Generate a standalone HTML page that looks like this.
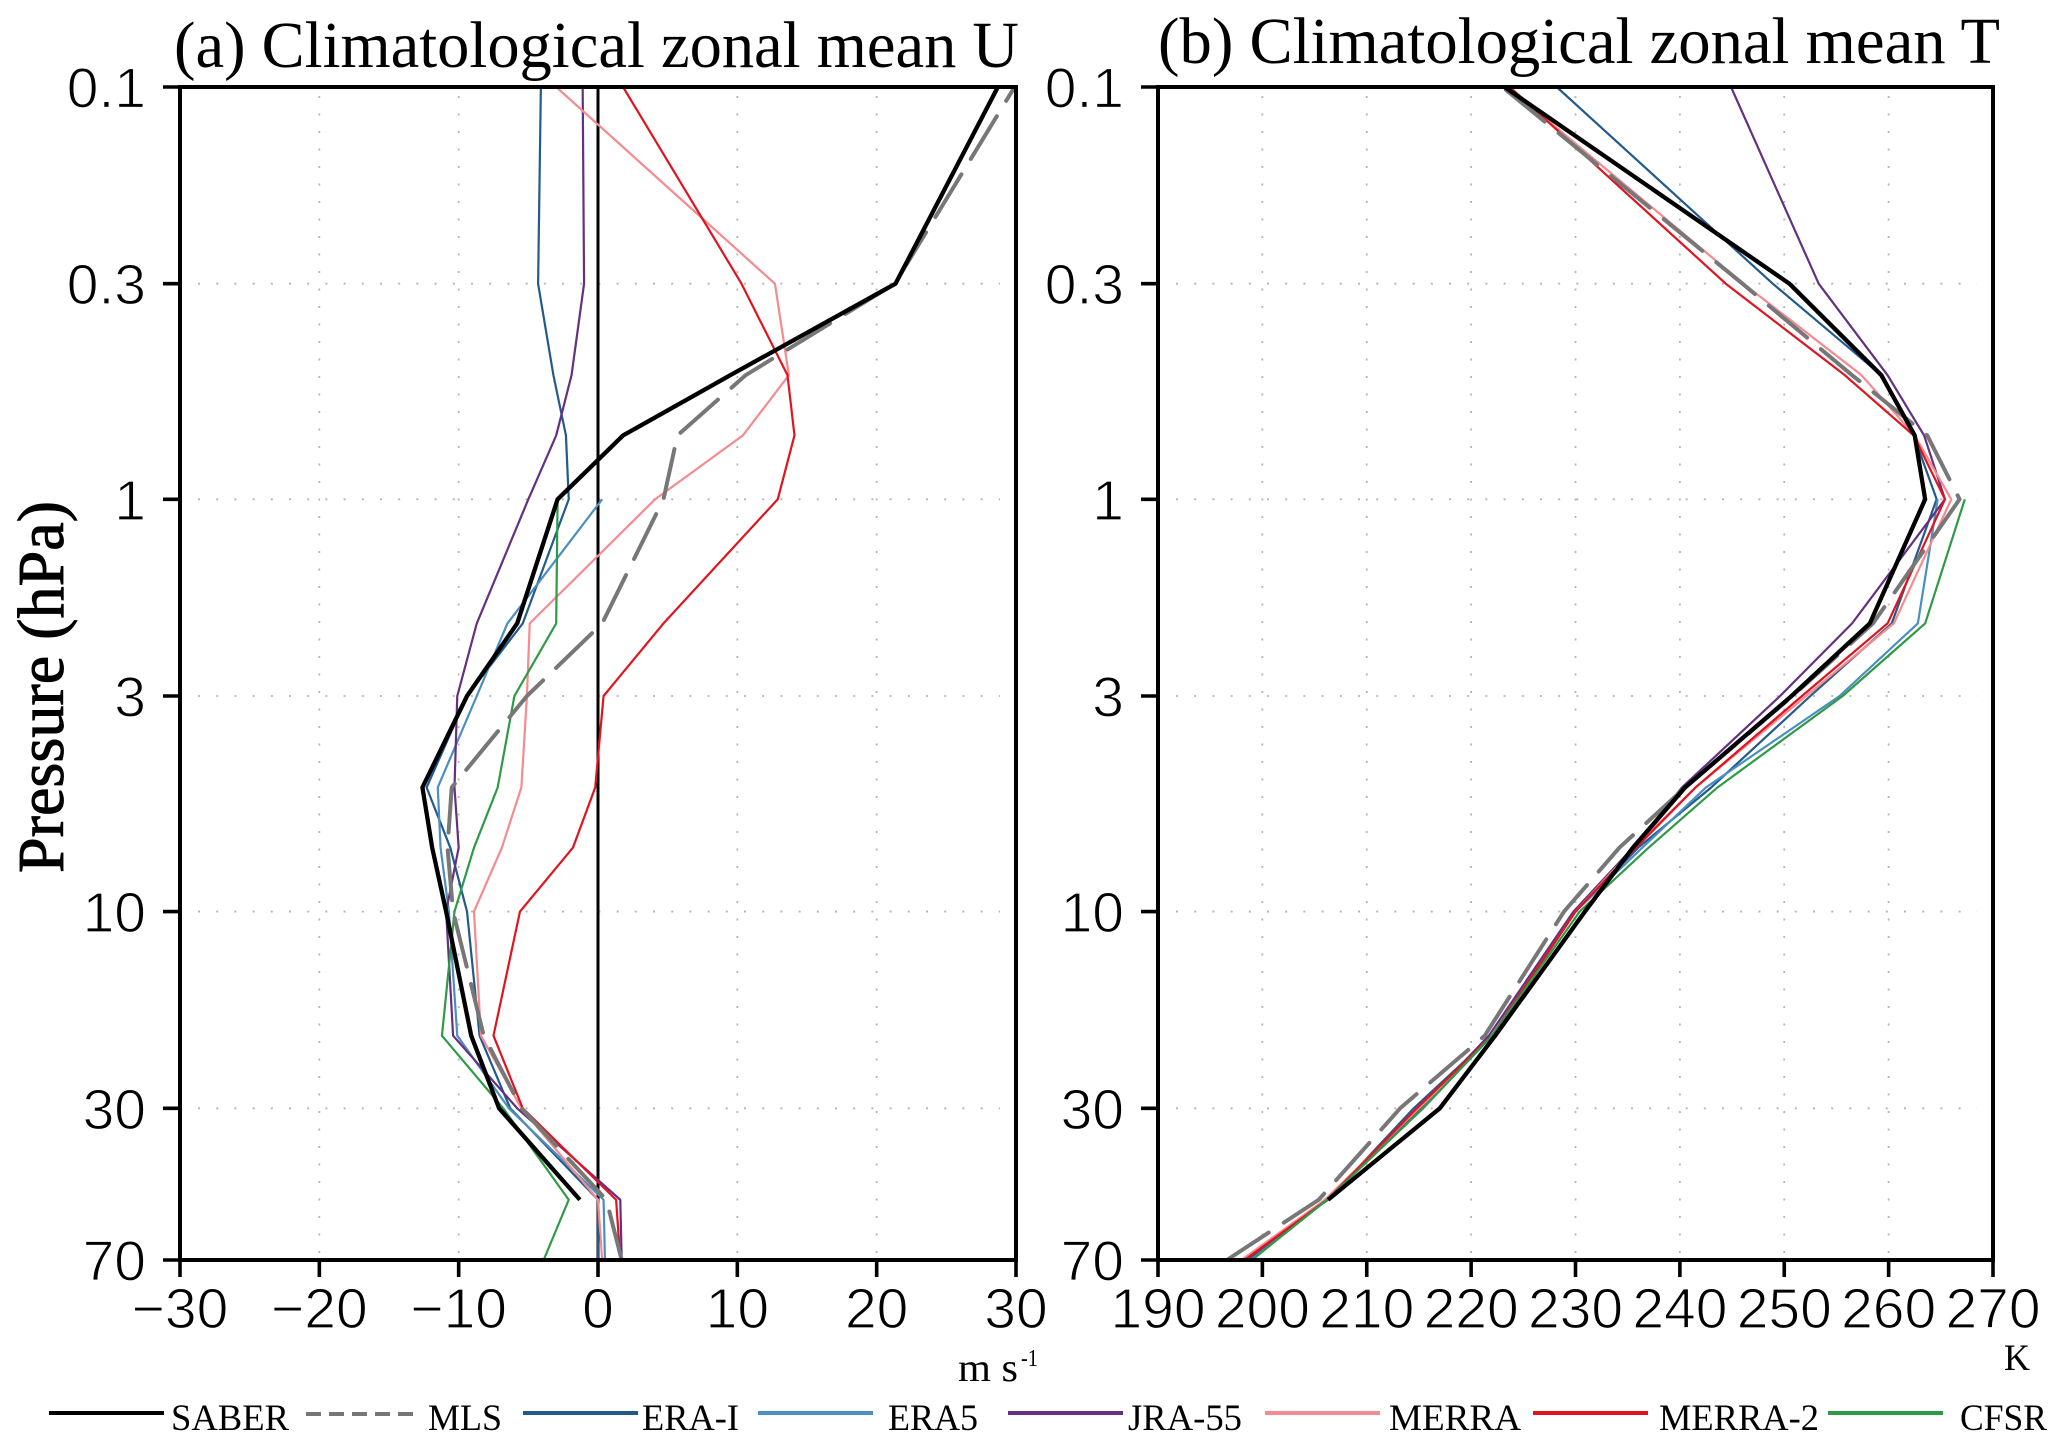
<!DOCTYPE html>
<html lang="en">
<head>
<meta charset="utf-8">
<title>Climatological zonal mean U and T</title>
<style>
  html, body { margin: 0; padding: 0; background: #fff; }
  #chart { display: block; width: 2067px; height: 1448px; }
  .tick-label { font-family: "Liberation Sans", sans-serif; font-size: 57px; fill: #000; stroke: #fff; stroke-width: 1.2px; paint-order: normal; }
  .serif { font-family: "Liberation Serif", serif; fill: #000; }
</style>
</head>
<body>
<svg id="chart" xmlns="http://www.w3.org/2000/svg" width="2067" height="1448" viewBox="0 0 2067 1448">
  <rect x="0" y="0" width="2067" height="1448" fill="#fff"/>
  <g id="panel-a"></g>
  <g id="panel-b"></g>

  <text class="serif" x="174" y="67" font-size="66" textLength="845" lengthAdjust="spacingAndGlyphs">(a) Climatological zonal mean U</text>
  <text class="serif" x="1158" y="63" font-size="66" textLength="842" lengthAdjust="spacingAndGlyphs">(b) Climatological zonal mean T</text>
  <text class="serif" transform="translate(63,873) rotate(-90)" font-size="66" stroke="#000" stroke-width="0.9" textLength="372" lengthAdjust="spacingAndGlyphs">Pressure (hPa)</text>
  <text class="serif" x="958" y="1381" font-size="40" textLength="60" lengthAdjust="spacingAndGlyphs">m s</text>
  <text class="serif" x="1021" y="1366" font-size="24" textLength="17" lengthAdjust="spacingAndGlyphs">-1</text>
  <text class="serif" x="2004" y="1370" font-size="37" textLength="26" lengthAdjust="spacingAndGlyphs">K</text>
  <g id="legend"></g>
</svg>

<script>
// Pressure levels (hPa), tick labels
const levels = [0.1, 0.3, 0.5, 0.7, 1, 2, 3, 5, 7, 10, 20, 30, 50, 70];
const pressureTicks = [0.1, 0.3, 1, 3, 10, 30, 70];
const uTicks = [-30, -20, -10, 0, 10, 20, 30];
const tTicks = [190, 200, 210, 220, 230, 240, 250, 260, 270];

// Panel (a): zonal wind, m/s, one value per pressure level
const uSaber  = [28.7, 21.35, 9.5, 1.8, -2.9, -5.8, -9.4, -12.6, -11.9, -10.9, -9.1, -7.1, -1.3, null];
const uMls    = [29.9, 21.3, 10.6, 5.7, 4.7, 0.3, -5.1, -10.5, -10.8, -10.4, -8.2, -5.5, 0.6, 1.7];
const uEraI   = [-4.1, -4.3, -3.2, -2.3, -2.1, -5.4, -9.4, -12.3, -10.6, -9.4, -8.5, -6.3, 0, 0];
const uEra5   = [null, null, null, null, 0.3, -6.5, -8.7, -11.5, -11.3, -10.7, -10.1, -6.4, 0.4, 0.5];
const uJra55  = [-1.1, -1, -1.9, -3, -5, -8.7, -10.1, -10.3, -10, -10.9, -10.4, -5.8, 1.6, 1.7];
const uMerra  = [-3, 12.7, 13.7, 10.4, 4.1, -4.9, -5.1, -5.5, -6.9, -8.9, -8.4, -5.5, 0, 0.3];
const uMerra2 = [1.8, 10.3, 13.6, 14.1, 12.9, 4.7, 0.4, -0.2, -1.8, -5.6, -7.5, -5.4, 1.3, 1.6];
const uCfsr   = [null, null, null, null, -2.9, -3, -6, -7.2, -8.9, -10.3, -11.2, -6.8, -2.1, -3.9];

// Panel (b): temperature, K, one value per pressure level
const tSaber  = [223.2, 250.5, 259.3, 262.5, 263.5, 258.2, 250.7, 240.5, 235.5, 230.9, 222.3, 217, 206.3, null];
const tMls    = [223, 246, 256.5, 263.7, 266.8, 258.5, 250.8, 240.5, 234.2, 228.9, 221.3, 213.2, 205.4, 196.6];
const tEraI   = [228.2, 248.9, 259.3, 262.4, 264.6, 260.3, 252.5, 243, 236, 230, 222, 214.5, 206.3, 198];
const tEra5   = [null, null, null, null, 264.7, 262.8, 255.3, 242.5, 236.4, 230, 222, 215.4, 206, 198.8];
const tJra55  = [244.9, 253.3, 259.9, 263.4, 265.4, 256.5, 249.6, 240.2, 235.5, 229.8, 221.7, 215.1, 206, 198.5];
const tMerra  = [223.5, 246.1, 257.4, 262.5, 266, 260.5, 252.1, 241.5, 235.6, 230, 222, 215, 206, 198];
const tMerra2 = [223.7, 244.4, 255.8, 262.4, 265.4, 259.9, 251.7, 241.5, 235.8, 230, 222, 214.8, 206.2, 198.3];
const tCfsr   = [null, null, null, null, 267.3, 263.5, 255.6, 243.6, 237, 230.4, 222, 215.4, 206.2, 199];

const legendNames = ["SABER", "MLS", "ERA-I", "ERA5", "JRA-55", "MERRA", "MERRA-2", "CFSR"];

const SVG_NS = "http://www.w3.org/2000/svg";
const styleFor = {
  "SABER":   { color: "#000000", width: 4.3 },
  "MLS":     { color: "#777777", width: 4, dash: "50 18" },
  "ERA-I":   { color: "#235a8c", width: 2.2 },
  "ERA5":    { color: "#4a8fc0", width: 2.2 },
  "JRA-55":  { color: "#64307f", width: 2.2 },
  "MERRA":   { color: "#f58a8f", width: 2.2 },
  "MERRA-2": { color: "#e0141f", width: 2.2 },
  "CFSR":    { color: "#2f9a46", width: 2.2 }
};
const plotTop = 87, plotBottom = 1260;

function make(parent, tag, attrs) {
  const el = document.createElementNS(SVG_NS, tag);
  for (const k in attrs) el.setAttribute(k, attrs[k]);
  parent.appendChild(el);
  return el;
}
function pressureY(p) {
  return plotTop + (Math.log10(p) - Math.log10(0.1)) * (plotBottom - plotTop) / (Math.log10(70) - Math.log10(0.1));
}
function linearX(left, right, min, max) {
  return function (v) { return left + (v - min) * (right - left) / (max - min); };
}

function drawPanel(root, prefix, left, right, xMin, xMax, xTicks, seriesList, zeroLine) {
  const x = linearX(left, right, xMin, xMax);

  // dotted grid
  xTicks.slice(1, -1).forEach(function (t) {
    const g = make(root, "line", { x1: x(t), x2: x(t), y1: plotTop + 9, y2: plotBottom - 4, stroke: "#b5b5b5", "stroke-width": 1.8, "stroke-dasharray": "2 15.5" });
    
    
  });
  pressureTicks.slice(1, -1).forEach(function (p) {
    const g = make(root, "line", { x1: left + 18, x2: right - 16, y1: pressureY(p), y2: pressureY(p), stroke: "#b5b5b5", "stroke-width": 1.8, "stroke-dasharray": "2 16.2" });
    
    
  });

  // zero reference
  if (zeroLine) {
    const z = make(root, "line", { x1: x(0), x2: x(0), y1: plotTop, y2: plotBottom, stroke: "#000", "stroke-width": 3 });
    
    
  }

  // series, drawn bottom-up so the dash phase starts at the lowest level
  seriesList.forEach(function (s) {
    const st = styleFor[s.name];
    const pts = [];
    for (let i = levels.length - 1; i >= 0; i--) {
      if (s.values[i] !== null) pts.push(x(s.values[i]).toFixed(2) + "," + pressureY(levels[i]).toFixed(2));
    }
    const attrs = { points: pts.join(" "), fill: "none", stroke: st.color, "stroke-width": st.width, "stroke-linejoin": "round", "stroke-linecap": st.dash ? "round" : "butt" };
    if (st.dash) attrs["stroke-dasharray"] = st.dash;
    const line = make(root, "polyline", attrs);
    
    
  });

  // frame
  const frame = make(root, "rect", { x: left, y: plotTop, width: right - left, height: plotBottom - plotTop, fill: "none", stroke: "#000", "stroke-width": 4 });
  
  

  // y ticks and labels
  pressureTicks.forEach(function (p) {
    const y = pressureY(p);
    const tick = make(root, "line", { x1: left - 17, x2: left, y1: y, y2: y, stroke: "#000", "stroke-width": 3.6 });
    
    
    const lab = make(root, "text", { x: left - 34, y: y + 20.5, "text-anchor": "end", class: "tick-label" });
    lab.textContent = String(p);
    
    
  });

  // x ticks and labels
  xTicks.forEach(function (t) {
    const px = x(t);
    const tick = make(root, "line", { x1: px, x2: px, y1: plotBottom, y2: plotBottom + 17, stroke: "#000", "stroke-width": 3.6 });
    
    
    const lab = make(root, "text", { x: px, y: 1328, "text-anchor": "middle", class: "tick-label" });
    lab.textContent = String(t).replace("-", "\u2212");
    
    
  });
}

drawPanel(document.getElementById("panel-a"), "panel-a", 180, 1016, -30, 30, uTicks, [
  { name: "ERA-I", values: uEraI },
  { name: "ERA5", values: uEra5 },
  { name: "JRA-55", values: uJra55 },
  { name: "MERRA", values: uMerra },
  { name: "MERRA-2", values: uMerra2 },
  { name: "CFSR", values: uCfsr },
  { name: "MLS", values: uMls },
  { name: "SABER", values: uSaber }
], true);

drawPanel(document.getElementById("panel-b"), "panel-b", 1158, 1993, 190, 270, tTicks, [
  { name: "ERA-I", values: tEraI },
  { name: "ERA5", values: tEra5 },
  { name: "JRA-55", values: tJra55 },
  { name: "MERRA", values: tMerra },
  { name: "MERRA-2", values: tMerra2 },
  { name: "CFSR", values: tCfsr },
  { name: "MLS", values: tMls },
  { name: "SABER", values: tSaber }
], false);

// legend layout: [line start, line end, text start, text width]
const legendLayout = [
  [49, 164, 171, 118],
  [306, 419, 428, 74],
  [523, 638, 642, 97],
  [758, 873, 888, 90],
  [1008, 1123, 1128, 114],
  [1265, 1380, 1389, 132],
  [1533, 1648, 1659, 160],
  [1828, 1943, 1960, 87]
];
const legendRoot = document.getElementById("legend");
legendNames.forEach(function (name, i) {
  const box = legendLayout[i];
  const st = styleFor[name];
  const attrs = { x1: box[0], x2: box[1], y1: st.dash ? 1414 : 1413, y2: st.dash ? 1414 : 1413, stroke: st.color, "stroke-width": 4 };
  if (st.dash) attrs["stroke-dasharray"] = "15 8";
  const sw = make(legendRoot, "line", attrs);
  
  
  const tx = make(legendRoot, "text", { x: box[2], y: 1430, class: "serif", "font-size": 37, textLength: box[3], lengthAdjust: "spacingAndGlyphs" });
  tx.textContent = name;
  
  
});
</script>
</body>
</html>
